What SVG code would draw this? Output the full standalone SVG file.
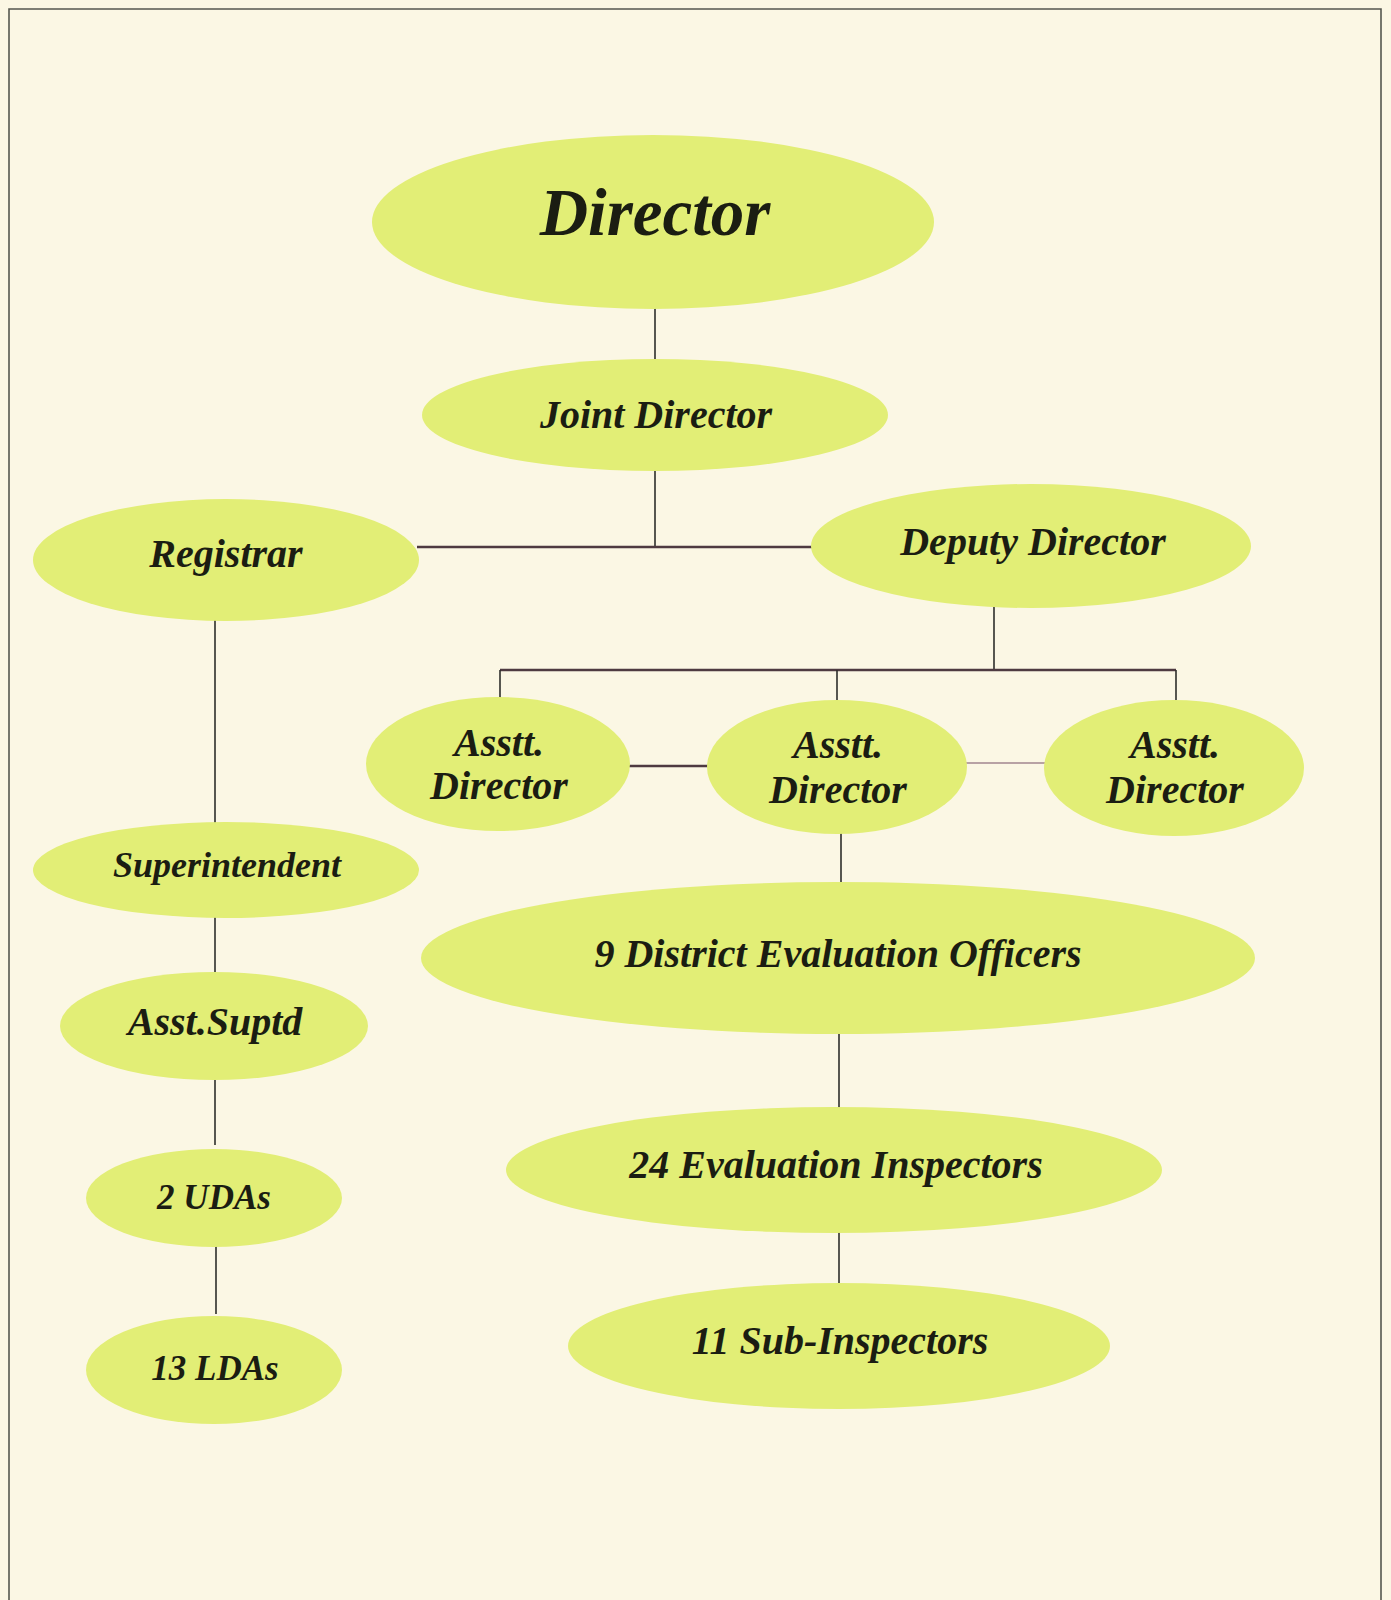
<svg xmlns="http://www.w3.org/2000/svg" width="1391" height="1600" viewBox="0 0 1391 1600">
<style>
.n ellipse{fill:#E2EE76;}
.n text{font-family:"Liberation Serif","Times New Roman",serif;font-weight:bold;font-style:italic;fill:#1b1d12;text-anchor:middle;font-size:40px;}
.v{stroke:#2e2e2a;stroke-width:1.6;fill:none;}
.h{stroke:#4e3a40;stroke-width:2.6;fill:none;}
</style>
<rect x="0" y="0" width="1391" height="1600" fill="#FBF7E4"/>
<path d="M9,1605 V9 H1381 V1605" fill="none" stroke="#55574f" stroke-width="1.6"/>
<g id="connectors">
<line class="v" x1="655" y1="306" x2="655" y2="360"/>
<line class="v" x1="655" y1="470" x2="655" y2="547"/>
<line class="h" x1="417" y1="547" x2="813" y2="547"/>
<line class="v" x1="994" y1="596" x2="994" y2="671"/>
<line class="h" x1="500" y1="670" x2="1176" y2="670"/>
<line class="v" x1="500" y1="670" x2="500" y2="698"/>
<line class="v" x1="837" y1="670" x2="837" y2="701"/>
<line class="v" x1="1176" y1="670" x2="1176" y2="700"/>
<line class="h" x1="629" y1="766" x2="708" y2="766"/>
<line stroke="#b8a2a4" stroke-width="2" x1="966" y1="763" x2="1045" y2="763"/>
<line class="v" x1="841" y1="833" x2="841" y2="884"/>
<line class="v" x1="215" y1="620" x2="215" y2="823"/>
<line class="v" x1="215" y1="917" x2="215" y2="973"/>
<line class="v" x1="215" y1="1079" x2="215" y2="1145"/>
<line class="v" x1="216" y1="1246" x2="216" y2="1314"/>
<line class="v" x1="839" y1="1033" x2="839" y2="1108"/>
<line class="v" x1="839" y1="1232" x2="839" y2="1284"/>
</g>
<g id="director" class="n"><ellipse cx="653" cy="222" rx="281" ry="87"/><text x="655" y="235" style="font-size:67px">Director</text></g>
<g id="joint-director" class="n"><ellipse cx="655" cy="415" rx="233" ry="56"/><text x="656" y="428">Joint Director</text></g>
<g id="registrar" class="n"><ellipse cx="226" cy="560" rx="193" ry="61"/><text x="226" y="567">Registrar</text></g>
<g id="deputy-director" class="n"><ellipse cx="1031" cy="546" rx="220" ry="62"/><text x="1033" y="555">Deputy Director</text></g>
<g id="asst-director-1" class="n"><ellipse cx="498" cy="764" rx="132" ry="67"/><text x="499" y="756">Asstt.</text><text x="499" y="799">Director</text></g>
<g id="asst-director-2" class="n"><ellipse cx="837" cy="767" rx="130" ry="67"/><text x="838" y="758">Asstt.</text><text x="838" y="803">Director</text></g>
<g id="asst-director-3" class="n"><ellipse cx="1174" cy="768" rx="130" ry="68"/><text x="1175" y="758">Asstt.</text><text x="1175" y="803">Director</text></g>
<g id="superintendent" class="n"><ellipse cx="226" cy="870" rx="193" ry="48"/><text x="227" y="877" style="font-size:36px">Superintendent</text></g>
<g id="asst-suptd" class="n"><ellipse cx="214" cy="1026" rx="154" ry="54"/><text x="215" y="1035">Asst.Suptd</text></g>
<g id="udas" class="n"><ellipse cx="214" cy="1198" rx="128" ry="49"/><text x="214" y="1209" style="font-size:35px">2 UDAs</text></g>
<g id="ldas" class="n"><ellipse cx="214" cy="1370" rx="128" ry="54"/><text x="215" y="1380" style="font-size:35px">13 LDAs</text></g>
<g id="deo" class="n"><ellipse cx="838" cy="958" rx="417" ry="76"/><text x="838" y="967">9 District Evaluation Officers</text></g>
<g id="inspectors" class="n"><ellipse cx="834" cy="1170" rx="328" ry="63"/><text x="836" y="1178">24 Evaluation Inspectors</text></g>
<g id="sub-inspectors" class="n"><ellipse cx="839" cy="1346" rx="271" ry="63"/><text x="840" y="1354">11 Sub-Inspectors</text></g>
</svg>
